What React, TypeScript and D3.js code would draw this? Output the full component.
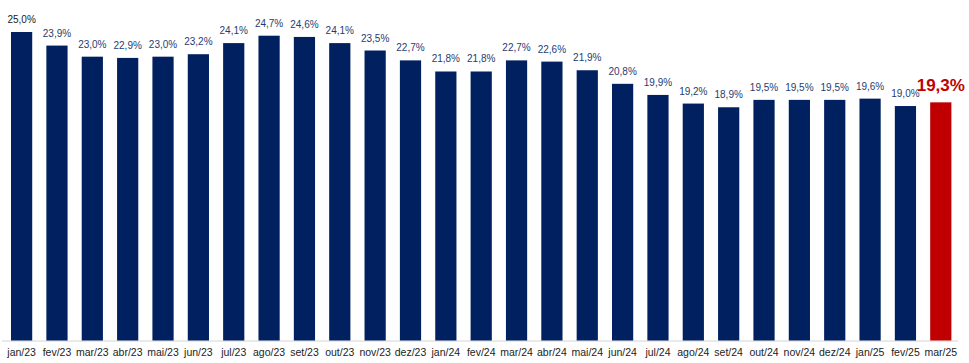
import React from 'react';
import * as d3 from 'd3';

const months = [
  'jan/23', 'fev/23', 'mar/23', 'abr/23', 'mai/23', 'jun/23', 'jul/23', 'ago/23', 'set/23',
  'out/23', 'nov/23', 'dez/23', 'jan/24', 'fev/24', 'mar/24', 'abr/24', 'mai/24', 'jun/24',
  'jul/24', 'ago/24', 'set/24', 'out/24', 'nov/24', 'dez/24', 'jan/25', 'fev/25', 'mar/25',
];
const values = [
  25.0, 23.9, 23.0, 22.9, 23.0, 23.2, 24.1, 24.7, 24.6,
  24.1, 23.5, 22.7, 21.8, 21.8, 22.7, 22.6, 21.9, 20.8,
  19.9, 19.2, 18.9, 19.5, 19.5, 19.5, 19.6, 19.0, 19.3,
];

const width = 969;
const height = 363;
const navy = '#002060';
const red = '#C00000';

const fmt = (v: number) => v.toFixed(1).replace('.', ',') + '%';

export default function App() {
  const ref = React.useRef<SVGSVGElement>(null);

  React.useEffect(() => {
    const svg = d3.select(ref.current);
    svg.selectAll('*').remove();

    const x = d3.scaleBand()
      .domain(months)
      .range([0.4, 962])
      .paddingInner(0.4)
      .paddingOuter(0.3);

    const y = d3.scaleLinear()
      .domain([0, 25])
      .range([340.5, 32]);

    const last = months.length - 1;

    // baseline
    svg.append('line')
      .attr('x1', 2)
      .attr('x2', 958)
      .attr('y1', y(0) + 0.5)
      .attr('y2', y(0) + 0.5)
      .attr('stroke', '#d4d4d4')
      .attr('stroke-width', 1);

    svg.selectAll('rect.bar')
      .data(values)
      .enter().append('rect')
      .attr('class', 'bar')
      .attr('x', (d, i) => x(months[i]) as number)
      .attr('y', d => y(d))
      .attr('width', x.bandwidth())
      .attr('height', d => y(0) - y(d))
      .attr('fill', (d, i) => i === last ? red : navy);

    // value labels
    svg.selectAll('text.val')
      .data(values)
      .enter().append('text')
      .attr('class', 'val')
      .attr('x', (d, i) => (x(months[i]) as number) + x.bandwidth() / 2)
      .attr('y', (d, i) => y(d) - (i === last ? 11 : 9))
      .attr('text-anchor', 'middle')
      .attr('font-family', 'Liberation Sans, Arial, sans-serif')
      .attr('font-size', (d, i) => i === last ? '17px' : '10px')
      .attr('font-weight', (d, i) => i === last ? 'bold' : 'normal')
      .attr('fill', (d, i) => i === last ? red : (i === 0 ? '#1a1a1a' : '#1F3C72'))
      .text(d => fmt(d));

    // month labels
    svg.selectAll('text.cat')
      .data(months)
      .enter().append('text')
      .attr('class', 'cat')
      .attr('x', d => (x(d) as number) + x.bandwidth() / 2)
      .attr('y', 356)
      .attr('text-anchor', 'middle')
      .attr('font-family', 'Liberation Sans, Arial, sans-serif')
      .attr('font-size', '10.5px')
      .attr('fill', '#222')
      .text(d => d);
  }, []);

  return (
    <svg
      ref={ref}
      width={width}
      height={height}
      style={{ position: 'absolute', left: 0, top: 0, background: '#fff' }}
    />
  );
}
